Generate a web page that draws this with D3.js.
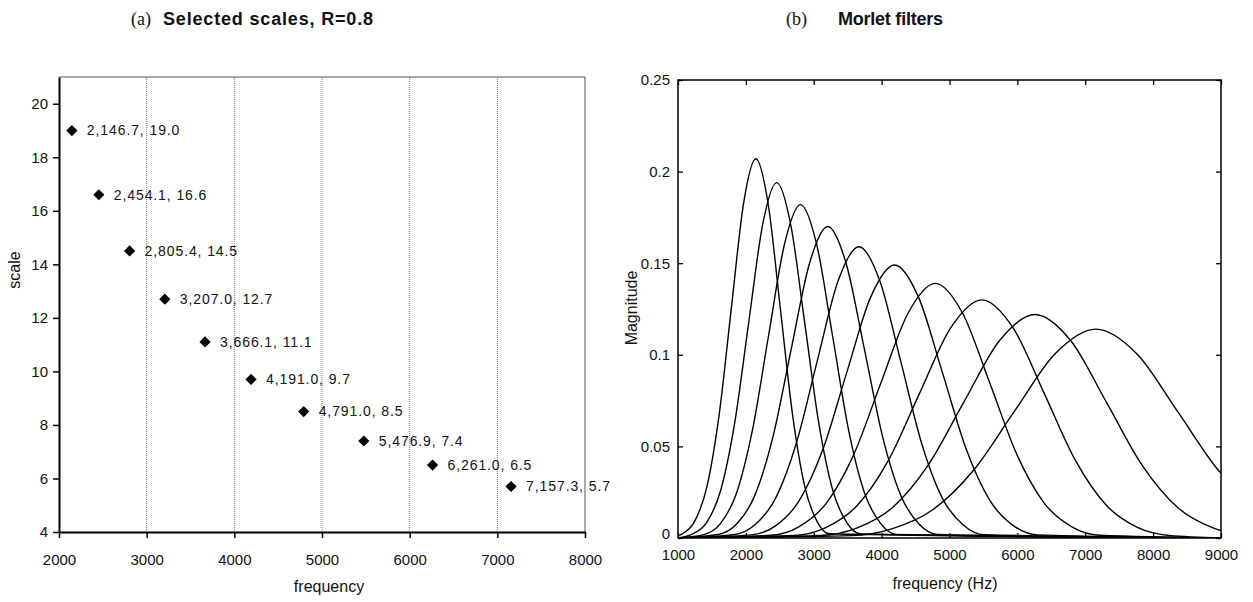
<!DOCTYPE html>
<html>
<head>
<meta charset="utf-8">
<script src="https://cdn.jsdelivr.net/npm/d3@7"></script>
<style>
  html, body { margin: 0; padding: 0; background: #fff; }
  svg { display: block; }
  text { font-family: "Liberation Sans", Arial, sans-serif; fill: #111; }
</style>
</head>
<body>
<svg id="chart" width="1253" height="602"></svg>
<script>
// ---------- Panel (a): selected scales ----------
const centerFrequencies = [2146.7, 2454.1, 2805.4, 3207.0, 3666.1, 4191.0, 4791.0, 5476.9, 6261.0, 7157.3];
const selectedScales    = [19.0, 16.6, 14.5, 12.7, 11.1, 9.7, 8.5, 7.4, 6.5, 5.7];
const xTicksA = [2000, 3000, 4000, 5000, 6000, 7000, 8000];
const yTicksA = [4, 6, 8, 10, 12, 14, 16, 18, 20];

// ---------- Panel (b): Morlet filter magnitude responses ----------
const filterFreqs = [
  [1000, 1065, 1245, 1426, 1606, 1786, 1966, 2147, 2327, 2507, 2688, 2868, 3048, 3229, 9000],
  [1000, 1217, 1423, 1630, 1836, 2042, 2248, 2454, 2660, 2866, 3073, 3279, 3485, 3691, 9000],
  [1000, 1392, 1627, 1863, 2098, 2334, 2570, 2805, 3041, 3277, 3512, 3748, 3984, 4219, 9000],
  [1000, 1591, 1860, 2129, 2399, 2668, 2938, 3207, 3476, 3746, 4015, 4285, 4554, 4823, 9000],
  [1000, 1818, 2126, 2434, 2742, 3050, 3358, 3666, 3974, 4282, 4590, 4898, 5206, 5514, 9000],
  [1000, 2079, 2431, 2783, 3135, 3487, 3839, 4191, 4543, 4895, 5247, 5599, 5951, 6303, 9000],
  [1000, 2376, 2779, 3181, 3584, 3986, 4389, 4791, 5193, 5596, 5998, 6401, 6803, 7206, 9000],
  [1000, 2717, 3177, 3637, 4097, 4557, 5017, 5477, 5937, 6397, 6857, 7317, 7777, 8237, 9000],
  [1000, 3106, 3632, 4157, 4683, 5209, 5735, 6261, 6787, 7313, 7839, 8365, 8891, 9416],
  [1000, 3550, 4151, 4753, 5354, 5955, 6556, 7157, 7759, 8360, 8961, 9562]
];
const filterMags = [
  [0.0013, 0.0023, 0.0091, 0.0280, 0.0672, 0.1255, 0.1827, 0.207, 0.1827, 0.1255, 0.0672, 0.0280, 0.0091, 0.0023, 0],
  [0, 0.0022, 0.0085, 0.0262, 0.0630, 0.1177, 0.1712, 0.194, 0.1712, 0.1177, 0.0630, 0.0262, 0.0085, 0.0022, 0],
  [0, 0.0020, 0.0080, 0.0246, 0.0591, 0.1104, 0.1606, 0.182, 0.1606, 0.1104, 0.0591, 0.0246, 0.0080, 0.0020, 0],
  [0, 0.0019, 0.0075, 0.0230, 0.0552, 0.1031, 0.1500, 0.170, 0.1500, 0.1031, 0.0552, 0.0230, 0.0075, 0.0019, 0],
  [0, 0.0018, 0.0070, 0.0215, 0.0516, 0.0964, 0.1403, 0.159, 0.1403, 0.0964, 0.0516, 0.0215, 0.0070, 0.0018, 0],
  [0, 0.0017, 0.0065, 0.0202, 0.0484, 0.0904, 0.1315, 0.149, 0.1315, 0.0904, 0.0484, 0.0202, 0.0065, 0.0017, 0],
  [0, 0.0015, 0.0061, 0.0188, 0.0451, 0.0843, 0.1227, 0.139, 0.1227, 0.0843, 0.0451, 0.0188, 0.0061, 0.0015, 0],
  [0, 0.0014, 0.0057, 0.0176, 0.0422, 0.0788, 0.1147, 0.130, 0.1147, 0.0788, 0.0422, 0.0176, 0.0057, 0.0014, 0.0001],
  [0, 0.0014, 0.0054, 0.0165, 0.0396, 0.0740, 0.1077, 0.122, 0.1077, 0.0740, 0.0396, 0.0165, 0.0054, 0.0014],
  [0, 0.0013, 0.0050, 0.0154, 0.0370, 0.0691, 0.1006, 0.114, 0.1006, 0.0691, 0.0370, 0.0154]
];
const xTicksB = [1000, 2000, 3000, 4000, 5000, 6000, 7000, 8000, 9000];
const yTicksB = [0, 0.05, 0.1, 0.15, 0.2, 0.25];
const yTickLabelsB = ["0", "0.05", "0.1", "0.15", "0.2", "0.25"];

const svg = d3.select("#chart");
svg.append("rect").attr("width", 1253).attr("height", 602).attr("fill", "#fff");

// ================= Panel (a) =================
const A = { left: 59, right: 585, top: 77, bottom: 532 };
const xA = d3.scaleLinear().domain([2000, 8000]).range([A.left, A.right]);
const yA = d3.scaleLinear().domain([4, 21]).range([A.bottom, A.top]);
const gA = svg.append("g");

// title
svg.append("text").attr("x", 131).attr("y", 25)
  .style("font-family", "'Liberation Serif', 'Times New Roman', serif")
  .style("font-size", "18px").text("(a)");
svg.append("text").attr("x", 163).attr("y", 25)
  .attr("textLength", 210).attr("lengthAdjust", "spacing")
  .style("font-family", "'Liberation Sans Narrow', 'Liberation Sans', Arial, sans-serif")
  .style("font-size", "18px").style("font-weight", "bold").text("Selected scales, R=0.8");

// gridlines (vertical, dotted)
gA.append("g").selectAll("line")
  .data(xTicksA.filter(d => d > 2000 && d < 8000))
  .join("line")
  .attr("x1", d => xA(d)).attr("x2", d => xA(d))
  .attr("y1", A.top).attr("y2", A.bottom)
  .attr("stroke", "#777").attr("stroke-width", 1).attr("stroke-dasharray", "1,1");

// top + right frame
gA.append("path")
  .attr("d", `M${A.left},${A.top}H${A.right}V${A.bottom}`)
  .attr("fill", "none").attr("stroke", "#555").attr("stroke-width", 1);

// axes
const axA_x = gA.append("g").attr("transform", `translate(0,${A.bottom})`)
  .call(d3.axisBottom(xA).tickValues(xTicksA).tickSizeInner(6).tickSizeOuter(0).tickPadding(16).tickFormat(d3.format("d")));
const axA_y = gA.append("g").attr("transform", `translate(${A.left},0)`)
  .call(d3.axisLeft(yA).tickValues(yTicksA).tickSizeInner(6).tickSizeOuter(0).tickPadding(5).tickFormat(d3.format("d")));
[axA_x, axA_y].forEach(ax => {
  ax.select(".domain").attr("stroke", "#000").attr("stroke-width", 2);
  ax.selectAll(".tick line").attr("stroke", "#000").attr("stroke-width", 1.5);
  ax.selectAll(".tick text").attr("fill", "#111")
    .style("font-family", "'Liberation Sans', Arial, sans-serif").style("font-size", "15px");
});

// axis titles
gA.append("text").attr("x", 329).attr("y", 592).attr("text-anchor", "middle")
  .style("font-size", "16px").text("frequency");
gA.append("text").attr("transform", "translate(20,270) rotate(-90)").attr("text-anchor", "middle")
  .style("font-size", "16px").text("scale");

// points
const ptsA = centerFrequencies.map((f, i) => ({ f, s: selectedScales[i] }));
gA.append("g").selectAll("path")
  .data(ptsA).join("path")
  .attr("transform", d => `translate(${xA(d.f)},${yA(d.s)})`)
  .attr("d", d3.symbol().type(d3.symbolDiamond2).size(80))
  .attr("fill", "#000");
const fmtF = d3.format(",.1f");
gA.append("g").selectAll("text")
  .data(ptsA).join("text")
  .attr("x", d => xA(d.f) + 15).attr("y", d => yA(d.s)).attr("dy", "0.35em")
  .style("font-size", "14px").style("letter-spacing", "0.9px")
  .text(d => `${fmtF(d.f)}, ${d.s.toFixed(1)}`);

// ================= Panel (b) =================
const B = { left: 678, right: 1221, top: 80, bottom: 538 };
const xB = d3.scaleLinear().domain([1000, 9000]).range([B.left, B.right]);
const yB = d3.scaleLinear().domain([0, 0.25]).range([B.bottom, B.top]);
const gB = svg.append("g");

svg.append("text").attr("x", 786).attr("y", 25)
  .style("font-family", "'Liberation Serif', 'Times New Roman', serif")
  .style("font-size", "18px").text("(b)");
svg.append("text").attr("x", 838).attr("y", 25)
  .attr("textLength", 105).attr("lengthAdjust", "spacing")
  .style("font-family", "'Liberation Sans Narrow', 'Liberation Sans', Arial, sans-serif")
  .style("font-size", "18px").style("font-weight", "bold").text("Morlet filters");

gB.append("clipPath").attr("id", "clipB")
  .append("rect").attr("x", B.left).attr("y", B.top)
  .attr("width", B.right - B.left).attr("height", B.bottom - B.top);

const line = d3.line().x(d => xB(d[0])).y(d => yB(d[1])).curve(d3.curveMonotoneX);
gB.append("g").attr("clip-path", "url(#clipB)").selectAll("path")
  .data(filterFreqs.map((fs, i) => fs.map((f, j) => [f, filterMags[i][j]])))
  .join("path")
  .attr("d", line).attr("fill", "none").attr("stroke", "#000").attr("stroke-width", 1.4);

// frame
gB.append("rect").attr("x", B.left).attr("y", B.top)
  .attr("width", B.right - B.left).attr("height", B.bottom - B.top)
  .attr("fill", "none").attr("stroke", "#000").attr("stroke-width", 1.5);

const fmtB = (d) => yTickLabelsB[yTicksB.indexOf(d)];
const axB = [
  gB.append("g").attr("transform", `translate(0,${B.bottom})`)
    .call(d3.axisBottom(xB).tickValues(xTicksB).tickSizeInner(-5).tickSizeOuter(0).tickPadding(11).tickFormat(d3.format("d"))),
  gB.append("g").attr("transform", `translate(0,${B.top})`)
    .call(d3.axisTop(xB).tickValues(xTicksB).tickSizeInner(-5).tickSizeOuter(0).tickFormat("")),
  gB.append("g").attr("class", "yLeftB").attr("transform", `translate(${B.left},0)`)
    .call(d3.axisLeft(yB).tickValues(yTicksB).tickSizeInner(-5).tickSizeOuter(0).tickPadding(8).tickFormat(fmtB)),
  gB.append("g").attr("transform", `translate(${B.right},0)`)
    .call(d3.axisRight(yB).tickValues(yTicksB).tickSizeInner(-5).tickSizeOuter(0).tickFormat(""))
];
axB.forEach(ax => {
  ax.select(".domain").remove();
  ax.selectAll(".tick line").attr("stroke", "#000").attr("stroke-width", 1.3);
  ax.selectAll(".tick text").attr("fill", "#111")
    .style("font-family", "'Liberation Sans', Arial, sans-serif").style("font-size", "15px");
});
// lift the zero label slightly so it clears the x tick labels
gB.select(".yLeftB").selectAll(".tick text").filter(d => d === 0).attr("dy", "0.05em");

gB.append("text").attr("x", 945).attr("y", 589).attr("text-anchor", "middle")
  .style("font-size", "16px").text("frequency (Hz)");
gB.append("text").attr("transform", "translate(637,308) rotate(-90)").attr("text-anchor", "middle")
  .style("font-size", "16px").text("Magnitude");
</script>
</body>
</html>
